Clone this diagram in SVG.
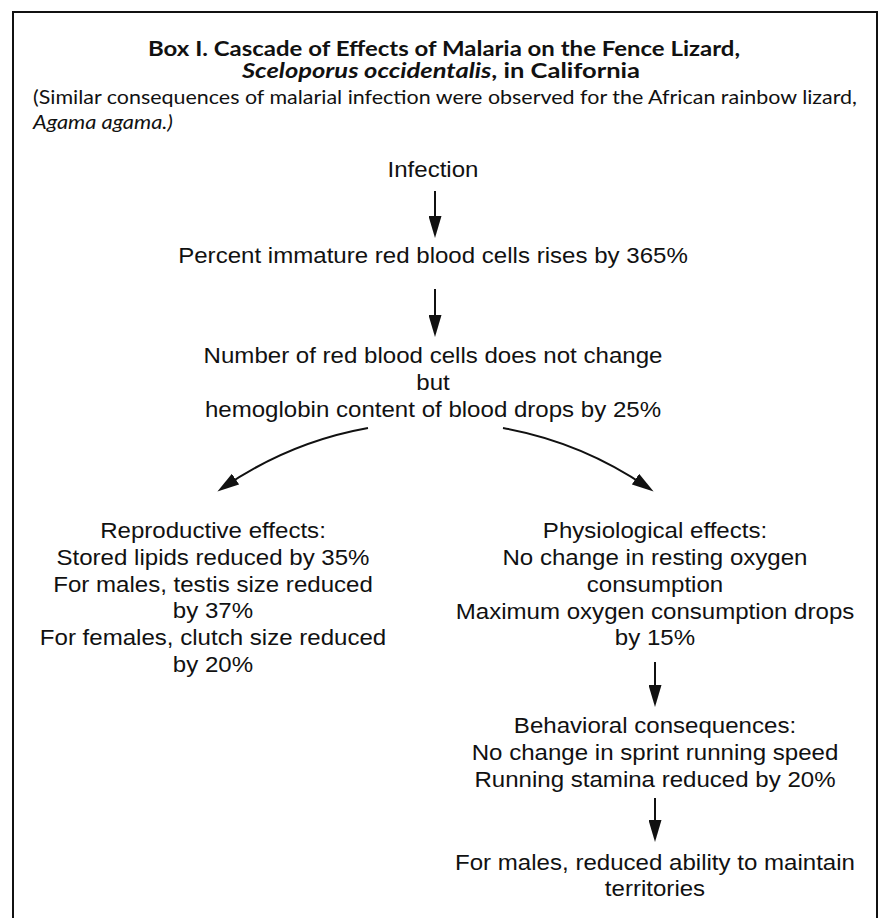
<svg xmlns="http://www.w3.org/2000/svg" width="882" height="918" viewBox="0 0 882 918">
<style>
.hd{font-family:Lato,"Open Sans","Liberation Sans",sans-serif;fill:#111;}
.b{font-weight:bold;font-size:20px;}
.r{font-size:20px;}
.it{font-style:italic;}
.t{font-family:"Liberation Sans",Arial,Helvetica,sans-serif;font-size:21.5px;fill:#111;text-anchor:middle;}
.ln{stroke:#111;stroke-width:2;fill:none;}
</style>
<defs>
<marker id="ah" markerUnits="userSpaceOnUse" markerWidth="22" markerHeight="13" refX="14" refY="6.5" orient="auto">
<path d="M0,0 L22,6.5 L0,13 Z" fill="#111"/>
</marker>
</defs>
<rect width="882" height="918" fill="#fff"/>
<path class="ln" d="M13,925 L13,12 L877,12 L877,925"/>
<g id="header">
<text class="hd b" x="148" y="56" textLength="592" lengthAdjust="spacingAndGlyphs">Box I. Cascade of Effects of Malaria on the Fence Lizard,</text>
<text class="hd b" x="242" y="78" textLength="398" lengthAdjust="spacingAndGlyphs"><tspan class="it">Sceloporus occidentalis</tspan>, in California</text>
<text class="hd r" x="33" y="104" textLength="824" lengthAdjust="spacingAndGlyphs">(Similar consequences of malarial infection were observed for the African rainbow lizard,</text>
<text class="hd r it" x="33" y="129" textLength="140" lengthAdjust="spacingAndGlyphs">Agama agama.)</text>
</g>
<g id="infection" transform="translate(433 0) scale(1.12 1)">
<text class="t" x="0" y="177">Infection</text>
</g>
<g id="immature" transform="translate(433 0) scale(1.12 1)">
<text class="t" x="0" y="263">Percent immature red blood cells rises by 365%</text>
</g>
<g id="hemoglobin" transform="translate(433 0) scale(1.12 1)">
<text class="t" x="0" y="363">Number of red blood cells does not change</text>
<text class="t" x="0" y="390">but</text>
<text class="t" x="0" y="417">hemoglobin content of blood drops by 25%</text>
</g>
<g id="reproductive" transform="translate(213 0) scale(1.12 1)">
<text class="t" x="0" y="538">Reproductive effects:</text>
<text class="t" x="0" y="565">Stored lipids reduced by 35%</text>
<text class="t" x="0" y="592">For males, testis size reduced</text>
<text class="t" x="0" y="618">by 37%</text>
<text class="t" x="0" y="645">For females, clutch size reduced</text>
<text class="t" x="0" y="672">by 20%</text>
</g>
<g id="physiological" transform="translate(655 0) scale(1.12 1)">
<text class="t" x="0" y="538">Physiological effects:</text>
<text class="t" x="0" y="565">No change in resting oxygen</text>
<text class="t" x="0" y="592">consumption</text>
<text class="t" x="0" y="619">Maximum oxygen consumption drops</text>
<text class="t" x="0" y="645">by 15%</text>
</g>
<g id="behavioral" transform="translate(655 0) scale(1.12 1)">
<text class="t" x="0" y="733">Behavioral consequences:</text>
<text class="t" x="0" y="760">No change in sprint running speed</text>
<text class="t" x="0" y="787">Running stamina reduced by 20%</text>
</g>
<g id="territories" transform="translate(655 0) scale(1.12 1)">
<text class="t" x="0" y="870">For males, reduced ability to maintain</text>
<text class="t" x="0" y="896">territories</text>
</g>
<g id="connectors">
<path class="ln" d="M435,191 L435,230" marker-end="url(#ah)"/>
<path class="ln" d="M435,289 L435,329" marker-end="url(#ah)"/>
<path class="ln" d="M368,428 Q290,442 224,487" marker-end="url(#ah)"/>
<path class="ln" d="M503,428 Q581,442 647,487" marker-end="url(#ah)"/>
<path class="ln" d="M655,662 L655,699" marker-end="url(#ah)"/>
<path class="ln" d="M655,798 L655,834" marker-end="url(#ah)"/>
</g>
</svg>
